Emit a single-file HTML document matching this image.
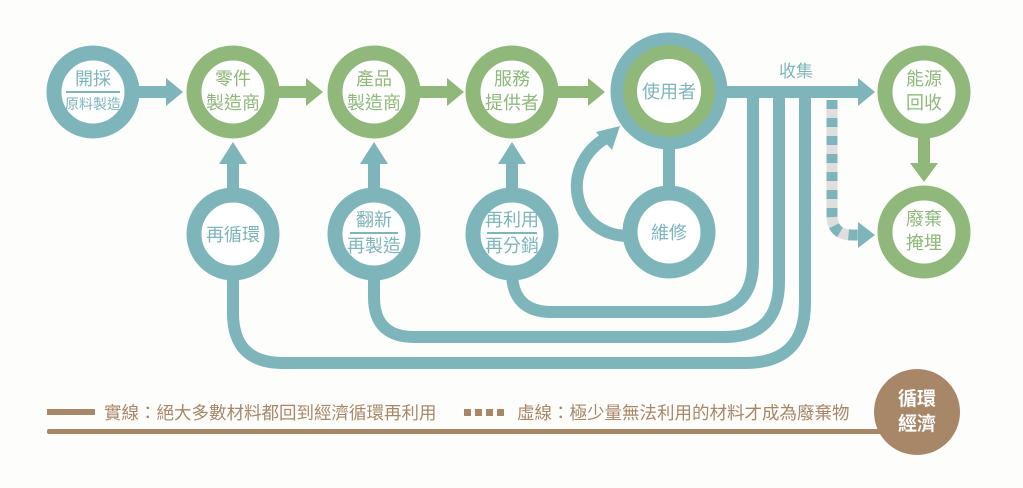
<!DOCTYPE html>
<html><head><meta charset="utf-8"><style>
html,body{margin:0;padding:0;background:#fdfdfc;}
svg{display:block}
text{font-family:"Liberation Sans","Noto Sans CJK TC",sans-serif;}
</style></head><body>
<svg width="1023" height="488" viewBox="0 0 1023 488" xmlns="http://www.w3.org/2000/svg">
<g fill="none" stroke="#7db5bb" stroke-width="12">
  <path d="M753 92 V262 Q753 312 703 312 H552 Q512 312 512 272 V270"/>
  <path d="M779 92 V282 Q779 337 724 337 H414 Q374 337 374 297 V270"/>
  <path d="M805 92 V303 Q805 363 745 363 H283 Q233 363 233 313 V270"/>
  <path d="M700 92 H858"/>
  <path d="M669 140 V195"/>
  <path d="M625 236 C 570 232, 560 165, 606 138"/>
  <path d="M233 190 V162"/><path d="M374 190 V162"/><path d="M512 190 V162"/>
  <path d="M135 92 H166"/>
</g>
<g fill="#7db5bb">
  <polygon points="858,78 875,92 858,106"/>
  <polygon points="166,78 183,92 166,106"/>
  <polygon points="219,164 233,142 247,164"/>
  <polygon points="360,164 374,142 388,164"/>
  <polygon points="498,164 512,142 526,164"/>
  <polygon points="596,132 620,126 612,150"/>
</g>
<path d="M832 100 V215 Q832 235 852 235 H860" fill="none" stroke="#dedede" stroke-width="11"/>
<path d="M832 100 V215 Q832 235 852 235 H860" fill="none" stroke="#7db5bb" stroke-width="11" stroke-dasharray="9 9"/>
<polygon points="858,222 875,235 858,248" fill="#7db5bb"/>
<g fill="none" stroke="#8fb87a" stroke-width="12">
  <path d="M278 92 H306"/><path d="M419 92 H448"/><path d="M558 92 H588"/>
  <path d="M924 138 V165"/>
</g>
<g fill="#8fb87a">
  <polygon points="306,78 323,92 306,106"/>
  <polygon points="447,78 464,92 447,106"/>
  <polygon points="588,78 605,92 588,106"/>
  <polygon points="910,163 924,182 938,163"/>
</g>
<g fill="#fff" stroke-width="15">
  <circle cx="93" cy="92" r="39" stroke="#7db5bb"/>
  <circle cx="233" cy="92" r="39" stroke="#8fb87a"/>
  <circle cx="374" cy="92" r="39" stroke="#8fb87a"/>
  <circle cx="512" cy="92" r="39" stroke="#8fb87a"/>
  <circle cx="924" cy="92" r="39" stroke="#8fb87a"/>
  <circle cx="924" cy="232" r="39" stroke="#8fb87a"/>
  <circle cx="233" cy="234" r="39" stroke="#7db5bb"/>
  <circle cx="374" cy="234" r="39" stroke="#7db5bb"/>
  <circle cx="512" cy="234" r="39" stroke="#7db5bb"/>
  <circle cx="669" cy="232" r="39" stroke="#7db5bb"/>
  <circle cx="669" cy="91" r="52" stroke="#7db5bb" stroke-width="13"/>
  <circle cx="669" cy="91" r="39" stroke="#8fb87a" stroke-width="14"/>
</g>
<g font-size="18" text-anchor="middle">
  <g fill="#7db5bb">
    <text x="93" y="85">開採</text>
    <line x1="66" y1="92" x2="120" y2="92" stroke="#7db5bb" stroke-width="2"/>
    <text x="93" y="109" font-size="14">原料製造</text>
    <text x="233" y="241">再循環</text>
    <text x="374" y="226">翻新</text>
    <line x1="350" y1="233" x2="398" y2="233" stroke="#7db5bb" stroke-width="2"/>
    <text x="374" y="252">再製造</text>
    <text x="512" y="226">再利用</text>
    <line x1="487" y1="233" x2="537" y2="233" stroke="#7db5bb" stroke-width="2"/>
    <text x="512" y="252">再分銷</text>
    <text x="669" y="239">維修</text>
    <text x="669" y="98">使用者</text>
    <text x="796" y="77" font-size="17">收集</text>
  </g>
  <g fill="#8fb87a">
    <text x="233" y="85">零件</text><text x="233" y="109">製造商</text>
    <text x="374" y="85">產品</text><text x="374" y="109">製造商</text>
    <text x="512" y="85">服務</text><text x="512" y="109">提供者</text>
    <text x="924" y="85">能源</text><text x="924" y="109">回收</text>
    <text x="924" y="225">廢棄</text><text x="924" y="249">掩埋</text>
  </g>
</g>
<rect x="47" y="409" width="48" height="6" fill="#a88768"/>
<text x="104" y="419" font-size="17.5" fill="#a88768">實線：絕大多數材料都回到經濟循環再利用</text>
<g fill="#a88768">
  <rect x="464" y="409" width="7" height="7"/><rect x="475" y="409" width="7" height="7"/>
  <rect x="486" y="409" width="7" height="7"/><rect x="497" y="409" width="7" height="7"/>
</g>
<text x="517" y="419" font-size="17.5" fill="#a88768">虛線：極少量無法利用的材料才成為廢棄物</text>
<rect x="47" y="429" width="850" height="5" rx="2" fill="#a88768"/>
<circle cx="917" cy="412" r="43" fill="#a88768"/>
<text x="917" y="405" font-size="19" font-weight="bold" fill="#fff" text-anchor="middle">循環</text>
<text x="917" y="430" font-size="19" font-weight="bold" fill="#fff" text-anchor="middle">經濟</text>
</svg>
</body></html>
